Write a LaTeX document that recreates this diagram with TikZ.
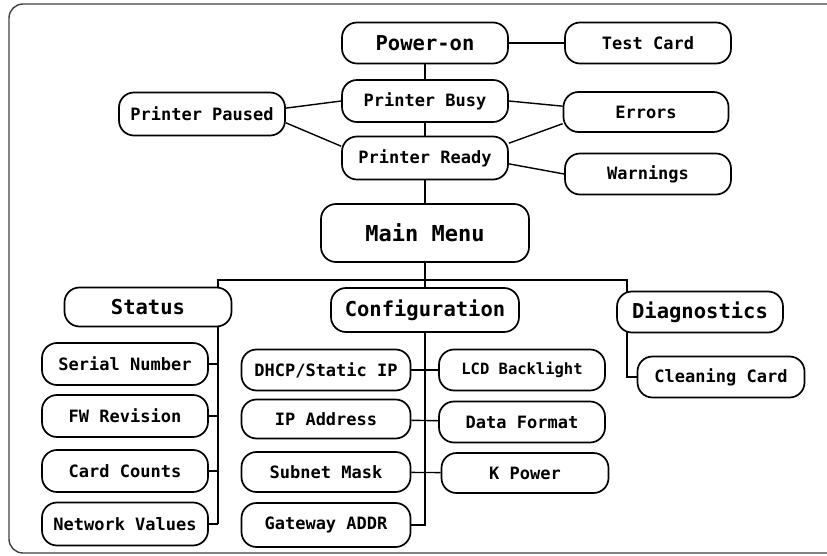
\documentclass[tikz,border=0pt]{standalone}
\usepackage{fontspec}
\setmonofont{DejaVu Sans Mono}
\usetikzlibrary{backgrounds}

\begin{document}
\begin{tikzpicture}[x=1pt,y=-1pt,
        box/.style={draw,fill=white,line width=1.7pt,rounded corners=15pt,
            minimum width=166pt,minimum height=41pt,inner sep=0pt,
            font=\ttfamily\bfseries\fontsize{17}{17}\selectfont},
        head/.style={box,font=\ttfamily\bfseries\fontsize{20.5}{20.5}\selectfont},
        link/.style={line width=1.4pt}]
        \useasboundingbox (0,0) rectangle (827,556);
        \draw[black!75,line width=1.4pt,rounded corners=14pt] (9,4) rectangle (860,553);

        \node[head] (pon) at (425,43) {Power-on};
        \node[box] (test) at (648,43) {Test Card};
        \node[box,minimum height=42pt] (busy) at (425,101) {Printer Busy};
        \node[box,minimum height=43pt] (ready) at (425,158) {Printer Ready};
        \node[box,minimum height=43pt] (paused) at (202,114) {Printer Paused};
        \node[box,minimum width=165pt,minimum height=40pt] (err) at (646,112) {Errors};
        \node[box] (warn) at (648,174) {Warnings};
        \node[head,minimum width=208pt,minimum height=58pt,
            font=\ttfamily\bfseries\fontsize{22}{22}\selectfont] (main) at (425,233) {Main Menu};

        \node[head,minimum width=167pt,minimum height=39pt] (status) at (148,307) {Status};
        \node[head,minimum width=188pt,minimum height=44pt] (config) at (425,310) {Configuration};
        \node[head] (diag) at (700,312) {Diagnostics};
        \node[box,minimum width=167pt] (clean) at (721,377) {Cleaning Card};

        \node[box,minimum height=42pt] (serial) at (125,364) {Serial Number};
        \node[box,minimum height=42pt] (fw) at (125,416) {FW Revision};
        \node[box,minimum height=42pt] (cards) at (125,471) {Card Counts};
        \node[box,minimum height=43pt] (netval) at (125,524) {Network Values};

        \node[box,minimum width=169pt] (dhcp) at (326,370) {DHCP/Static IP};
        \node[box,minimum width=169pt,minimum height=39pt] (ipaddr) at (326,419) {IP Address};
        \node[box,minimum width=169pt,minimum height=40pt] (subnet) at (326,472) {Subnet Mask};
        \node[box,minimum width=169pt,minimum height=44pt] (gateway) at (326,525) {Gateway ADDR};

        \node[box,font=\ttfamily\bfseries\fontsize{15.5}{15.5}\selectfont] (lcd) at (522,370) {LCD Backlight};
        \node[box] (datafmt) at (522,422) {Data Format};
        \node[box,minimum width=167pt,minimum height=40pt] (kpower) at (525,473) {K Power};

        \coordinate (stbus) at (218,280);
        \coordinate (dgbus) at (627,280);

        \begin{scope}[on background layer]
            \draw[link] (pon) -- (test);
            \draw[link] (pon) -- (busy);
            \draw[link] (busy) -- (ready);
            \draw[link] (ready) -- (main);
            \draw[link] (main) -- (config);
            \draw[link] (paused.4) -- (busy.west);
            \draw[link] (paused.-6) -- (ready.172);
            \draw[link] (busy.east) -- (err.176);
            \draw[link] (ready.10) -- (err.188);
            \draw[link] (ready.-4) -- (warn.west);
            \draw[link] (stbus |- netval) -- (stbus) -- (dgbus) -- (dgbus |- clean) -- (clean);
            \foreach \n in {serial,fw,cards,netval}
                \draw[link] (\n) -- (\n -| stbus);
            \draw[link] (config) -- (config |- gateway) -- (gateway);
            \draw[link] (dhcp) -- (lcd);
            \draw[link] (ipaddr) -- (datafmt);
            \draw[link] (subnet) -- (kpower);
        \end{scope}
\end{tikzpicture}
\end{document}
